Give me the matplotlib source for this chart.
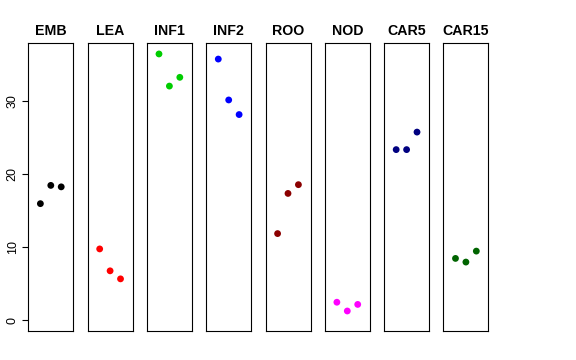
import matplotlib
matplotlib.use("Agg")
import matplotlib.pyplot as plt

plt.rcParams['font.family'] = ['Liberation Sans', 'DejaVu Sans']

# stages and replicate values (3 per stage)
stages = ['EMB', 'LEA', 'INF1', 'INF2', 'ROO', 'NOD', 'CAR5', 'CAR15']
emb = [16.0, 18.5, 18.3]
lea = [9.8, 6.8, 5.7]
inf1 = [36.5, 32.1, 33.3]
inf2 = [35.8, 30.2, 28.2]
roo = [11.9, 17.4, 18.6]
nod = [2.5, 1.3, 2.2]
car5 = [23.4, 23.4, 25.8]
car15 = [8.5, 8.0, 9.5]
values = [emb, lea, inf1, inf2, roo, nod, car5, car15]
colors = ['black', '#FF0000', '#00CD00', '#0000FF', '#8B0000', '#FF00FF', '#000080', '#006400']
replicates = [1, 2, 3]
yticks = [0, 10, 20, 30]

W, H = 576, 360
fig = plt.figure(figsize=(W / 100, H / 100), dpi=100)

left0, step, pw = 28.3, 59.3, 45
bottom, ph = 29, 288

for i, (name, vals, col) in enumerate(zip(stages, values, colors)):
    ax = fig.add_axes([(left0 + i * step) / W, bottom / H, pw / W, ph / H])
    ax.scatter(replicates, vals, color=col, s=24, edgecolors='none', zorder=3)
    ax.set_xlim(-0.16, 4.16)
    ax.set_ylim(-1.44, 38.0)
    ax.set_xticks([])
    ax.set_title(name, fontsize=10.2, fontweight='bold', pad=6)
    for s in ax.spines.values():
        s.set_linewidth(0.8)
        s.set_color('black')
    if i == 0:
        ax.set_yticks(yticks)
        ax.tick_params(axis='y', length=4, width=0.8, pad=3, labelsize=9)
        for lab in ax.get_yticklabels():
            lab.set_rotation(90)
            lab.set_va('center')
    else:
        ax.set_yticks([])

fig.savefig('out.png', dpi=100)
